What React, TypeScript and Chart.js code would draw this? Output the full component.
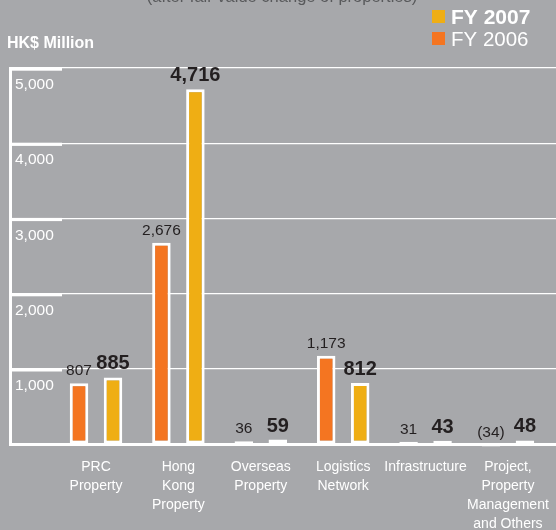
import React, { useEffect, useRef } from 'react';
import { Chart, registerables } from 'chart.js';

Chart.register(...registerables);

// ---- data ----
const categories: string[][] = [
  ['PRC', 'Property'],
  ['Hong', 'Kong', 'Property'],
  ['Overseas', 'Property'],
  ['Logistics', 'Network'],
  ['Infrastructure'],
  ['Project,', 'Property', 'Management', 'and Others'],
];
const fy2006: number[] = [807, 2676, 36, 1173, 31, -34];
const fy2007: number[] = [885, 4716, 59, 812, 43, 48];
const seriesNames: string[] = ['FY 2006', 'FY 2007'];
const yMin = 0;
const yMax = 5000;
const yStep = 1000;
const unitLabel = 'HK$ Million';
const caption = '(after fair value change of properties)';

// ---- styles ----
const BG = '#a7a8ab';
const ORANGE = '#f47521';
const GOLD = '#efae14';
const WHITE = '#ffffff';
const DARK = '#231f20';
const SANS = '"Liberation Sans", Arial, Helvetica, sans-serif';

const fmt = (v: number) =>
  v < 0 ? `(${Math.abs(v).toLocaleString('en-US')})` : v.toLocaleString('en-US');

export default function App() {
  const ref = useRef<HTMLCanvasElement>(null);

  useEffect(() => {
    document.body.style.margin = '0';
    document.body.style.background = BG;
    const canvas = ref.current!;

    const bgPlugin = {
      id: 'bgPlugin',
      beforeDraw(chart: any) {
        const { ctx, width, height } = chart;
        ctx.save();
        ctx.fillStyle = BG;
        ctx.fillRect(0, 0, width, height);
        ctx.restore();
      },
      beforeDatasetsDraw(chart: any) {
        // thicker stubs of the gridlines next to the y labels
        const { ctx, chartArea } = chart;
        const ys = chart.scales.y;
        ctx.save();
        ctx.fillStyle = WHITE;
        ys.ticks.forEach((t: any) => {
          if (t.value <= 0) return;
          const py = ys.getPixelForValue(t.value);
          ctx.fillRect(chartArea.left, py - 0.5, 52, 3.2);
        });
        ctx.restore();
      },
      afterDatasetsDraw(chart: any) {
        const { ctx } = chart;
        ctx.save();
        ctx.textAlign = 'center';
        ctx.textBaseline = 'alphabetic';
        ctx.fillStyle = DARK;
        chart.data.datasets.forEach((ds: any, di: number) => {
          const meta = chart.getDatasetMeta(di);
          ctx.font = di === 1 ? `bold 20px ${SANS}` : `15.5px ${SANS}`;
          meta.data.forEach((el: any, i: number) => {
            const v = ds.data[i].y;
            const top = Math.min(el.y, el.base);
            ctx.fillText(fmt(v), el.x, top - 8);
          });
        });
        ctx.restore();
      },
      afterDraw(chart: any) {
        const { ctx } = chart;
        ctx.save();
        // cut-off caption
        ctx.fillStyle = '#58595b';
        ctx.font = `16.5px ${SANS}`;
        ctx.textAlign = 'center';
        ctx.textBaseline = 'alphabetic';
        ctx.fillText(caption, 282, 1.5);
        // unit
        ctx.fillStyle = WHITE;
        ctx.textAlign = 'left';
        ctx.font = `bold 16px ${SANS}`;
        ctx.fillText(unitLabel, 7, 48);
        // legend
        ctx.fillStyle = GOLD;
        ctx.fillRect(432, 10, 13, 13);
        ctx.fillStyle = ORANGE;
        ctx.fillRect(432, 32, 13, 13);
        ctx.fillStyle = WHITE;
        ctx.font = `bold 21px ${SANS}`;
        ctx.fillText(seriesNames[1], 451, 24);
        ctx.font = `20.5px ${SANS}`;
        ctx.fillText(seriesNames[0], 451, 46);
        ctx.restore();
      },
    };

    const chart = new Chart(canvas, {
      type: 'bar',
      data: {
        datasets: [
          {
            label: seriesNames[0],
            data: fy2006.map((y, i) => ({ x: i, y })),
            backgroundColor: ORANGE,
            borderColor: WHITE,
            borderWidth: 3,
            borderSkipped: false,
            clip: false as any,
          },
          {
            label: seriesNames[1],
            data: fy2007.map((y, i) => ({ x: i, y })),
            backgroundColor: GOLD,
            borderColor: WHITE,
            borderWidth: 3,
            borderSkipped: false,
            clip: false as any,
          },
        ],
      },
      options: {
        animation: false,
        responsive: false,
        devicePixelRatio: 1,
        categoryPercentage: 0.825,
        barPercentage: 0.545,
        layout: { padding: { left: 10, right: 0, top: 68, bottom: 0 } },
        plugins: {
          legend: { display: false },
          title: { display: false },
          tooltip: { enabled: false },
        },
        scales: {
          x: {
            type: 'linear',
            min: -1.044,
            max: 5.583,
            offset: false,
            bounds: 'data',
            grid: { display: false, drawTicks: false, offset: false },
            border: { display: true, color: WHITE, width: 3, z: 1 },
            afterBuildTicks: (s: any) => {
              s.ticks = categories.map((_, i) => ({ value: i }));
            },
            afterFit: (s: any) => {
              s.height = 86;
              s.paddingLeft = 0;
              s.paddingRight = 0;
            },
            ticks: {
              autoSkip: false,
              maxRotation: 0,
              minRotation: 0,
              padding: 14,
              color: WHITE,
              font: { family: SANS, size: 14, lineHeight: 1.34 },
              callback: (v: any) => categories[Math.round(Number(v))] ?? '',
            },
          },
          y: {
            type: 'linear',
            min: yMin,
            max: yMax,
            grid: { color: WHITE, lineWidth: 1.2, drawTicks: false },
            border: { display: true, color: WHITE, width: 3 },
            afterFit: (s: any) => {
              s.width = 0;
            },
            ticks: {
              stepSize: yStep,
              mirror: true,
              padding: 5,
              labelOffset: 17,
              color: WHITE,
              font: { family: SANS, size: 15.5 },
              callback: (v: any) => (Number(v) === 0 ? '' : Number(v).toLocaleString('en-US')),
            },
          },
        },
      } as any,
      plugins: [bgPlugin],
    });

    return () => chart.destroy();
  }, []);

  return <canvas ref={ref} width={556} height={530} style={{ display: 'block' }} />;
}
